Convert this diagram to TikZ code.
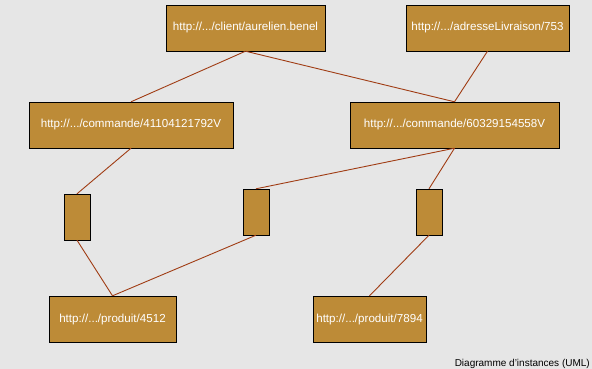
\documentclass[tikz,border=0pt]{standalone}
\usepackage{fontspec}
\setmainfont{Liberation Sans}
\definecolor{fond}{RGB}{230,230,230}
\definecolor{ocre}{RGB}{189,139,55}
\definecolor{brique}{RGB}{160,60,20}
\tikzset{
  instance/.style={draw=black, fill=ocre, text=white, minimum height=46pt,
    inner sep=0pt, font=\fontsize{11.6}{14}\selectfont},
  lien/.style={draw=black, fill=ocre, minimum width=26pt, minimum height=46pt,
    inner sep=0pt},
  assoc/.style={draw=brique, line width=0.9pt}
}
\begin{document}
\begin{tikzpicture}[x=1pt,y=-1pt]

  \fill[fond] (0,0) rectangle (592,369);
  \useasboundingbox (0,0) rectangle (592,369);

  % instances
  \node[instance, minimum width=159pt] (client) at (245.5,28) {http://.../client/aurelien.benel};
  \node[instance, minimum width=163pt] (adresse) at (487.5,28) {http://.../adresseLivraison/753};
  \node[instance, minimum width=204pt] (cmdA) at (131,125) {http://.../commande/41104121792V};
  \node[instance, minimum width=209pt] (cmdB) at (454.5,125) {http://.../commande/60329154558V};
  \node[lien] (lienA) at (77,217) {};
  \node[lien] (lienB) at (256,212) {};
  \node[lien] (lienC) at (429,212) {};
  \node[instance, minimum width=127pt] (produitA) at (112.5,319) {http://.../produit/4512};
  \node[instance, minimum width=113pt] (produitB) at (369.5,319) {http://.../produit/7894};

  % liens
  \draw[assoc] (client.south) -- (cmdA.north);
  \draw[assoc] (client.south) -- (cmdB.north);
  \draw[assoc] (adresse.south) -- (cmdB.north);
  \draw[assoc] (cmdA.south) -- (lienA.north);
  \draw[assoc] (cmdB.south) -- (lienB.north);
  \draw[assoc] (cmdB.south) -- (lienC.north);
  \draw[assoc] (lienA.south) -- (produitA.north);
  \draw[assoc] (lienB.south) -- (produitA.north);
  \draw[assoc] (lienC.south) -- (produitB.north);

  \node[anchor=base east, inner sep=0pt, font=\fontsize{10}{12}\selectfont]
    (titre) at (590,366) {Diagramme d'instances (UML)};

\end{tikzpicture}
\end{document}
